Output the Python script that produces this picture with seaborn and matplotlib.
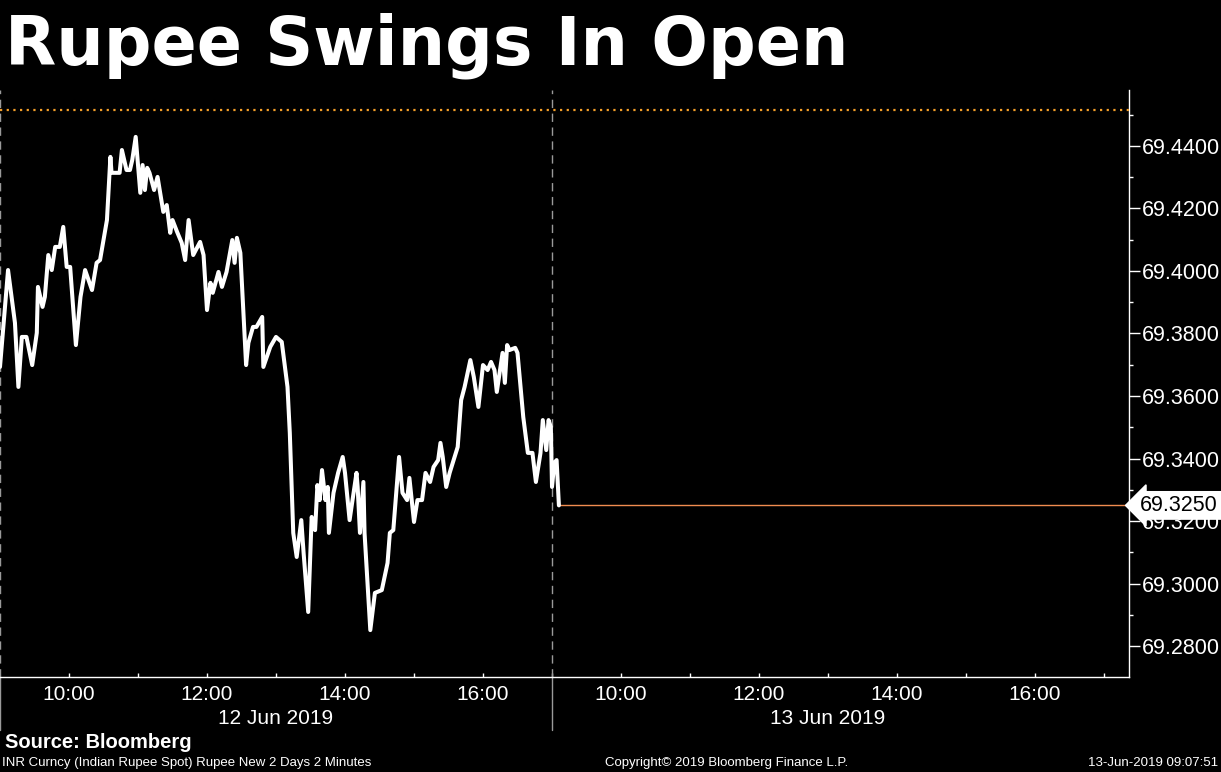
import matplotlib
matplotlib.use("Agg")
import matplotlib.pyplot as plt
import matplotlib.transforms as mtransforms
import matplotlib.ticker as mticker
import seaborn as sns
import pandas as pd

# INR spot, 2-minute bars
day1_times = [
    "09:00", "09:07", "09:13", "09:16", "09:19", "09:23", "09:28", "09:32", "09:33", "09:37",
    "09:39", "09:42", "09:45", "09:48", "09:52", "09:55", "09:58", "10:01", "10:06", "10:10",
    "10:14", "10:20", "10:24", "10:27", "10:33", "10:36", "10:37", "10:44", "10:46", "10:50",
    "10:53", "10:55", "10:58", "11:02", "11:04", "11:06", "11:08", "11:10", "11:14", "11:17",
    "11:22", "11:25", "11:28", "11:30", "11:34", "11:38", "11:41", "11:44", "11:48", "11:54",
    "11:57", "12:00", "12:03", "12:05", "12:10", "12:13", "12:17", "12:22", "12:24", "12:26",
    "12:29", "12:34", "12:36", "12:40", "12:43", "12:48", "12:49", "12:55", "13:00", "13:05",
    "13:10", "13:12", "13:15", "13:18", "13:22", "13:24", "13:28", "13:31", "13:34", "13:36",
    "13:38", "13:40", "13:43", "13:45", "13:46", "13:50", "13:54", "13:58", "14:00", "14:04",
    "14:10", "14:11", "14:13", "14:16", "14:17", "14:22", "14:26", "14:32", "14:37", "14:39",
    "14:42", "14:47", "14:50", "14:54", "14:56", "15:00", "15:03", "15:07", "15:10", "15:14",
    "15:17", "15:21", "15:23", "15:25", "15:28", "15:31", "15:38", "15:41", "15:44", "15:49",
    "15:52", "15:56", "16:00", "16:04", "16:07", "16:10", "16:12", "16:17", "16:19", "16:21",
    "16:23", "16:28", "16:30", "16:35", "16:39", "16:43", "16:46", "16:50", "16:52", "16:55",
    "16:57", "16:59",
]
day1_prices = [
    69.3693, 69.4003, 69.3834, 69.3629, 69.3789, 69.3789, 69.3699, 69.3802, 69.3949, 69.3885,
    69.3917, 69.4051, 69.4003, 69.4077, 69.4077, 69.4141, 69.4013, 69.4013, 69.3763, 69.3917,
    69.4003, 69.3939, 69.4026, 69.4035, 69.4163, 69.4365, 69.4314, 69.4314, 69.4387, 69.4323,
    69.4323, 69.4355, 69.4429, 69.4250, 69.4339, 69.4259, 69.4330, 69.4314, 69.4259, 69.4301,
    69.4189, 69.4211, 69.4122, 69.4163, 69.4125, 69.4090, 69.4035, 69.4163, 69.4051, 69.4093,
    69.4051, 69.3875, 69.3962, 69.3930, 69.3997, 69.3949, 69.3997, 69.4099, 69.4026, 69.4106,
    69.4058, 69.3699, 69.3770, 69.3821, 69.3821, 69.3853, 69.3693, 69.3757, 69.3789, 69.3773,
    69.3629, 69.3482, 69.3162, 69.3085, 69.3203, 69.3098, 69.2909, 69.3213, 69.3171, 69.3315,
    69.3267, 69.3363, 69.3267, 69.3309, 69.3162, 69.3290, 69.3354, 69.3405, 69.3354, 69.3203,
    69.3354, 69.3309, 69.3162, 69.3325, 69.3162, 69.2851, 69.2970, 69.2979, 69.3066, 69.3162,
    69.3171, 69.3405, 69.3290, 69.3267, 69.3338, 69.3197, 69.3267, 69.3267, 69.3354, 69.3325,
    69.3373, 69.3395, 69.3450, 69.3405, 69.3309, 69.3354, 69.3437, 69.3587, 69.3629, 69.3715,
    69.3661, 69.3565, 69.3699, 69.3683, 69.3709, 69.3683, 69.3613, 69.3738, 69.3642, 69.3763,
    69.3747, 69.3754, 69.3738, 69.3533, 69.3418, 69.3418, 69.3325, 69.3418, 69.3523, 69.3427,
    69.3523, 69.3501,
]
day2_times = ["09:00", "09:02", "09:04", "09:06"]
day2_prices = [69.3309, 69.3386, 69.3395, 69.3250]

day_labels = ["12 Jun 2019", "13 Jun 2019"]
hour_labels = ["10:00", "12:00", "14:00", "16:00"]
last_price = 69.3250
high_marker = 69.4515

title = "Rupee Swings In Open"
source = "Source: Bloomberg"
footer_left = "INR Curncy (Indian Rupee Spot) Rupee New 2 Days 2 Minutes"
footer_mid = "Copyright\u00a9 2019 Bloomberg Finance L.P."
footer_right = "13-Jun-2019 09:07:51"

SESSION_H = 8.0      # hours shown per day slot
OPEN_H = 9.0


def to_pos(day, t):
    h, m = t.split(":")
    return day * SESSION_H + int(h) + int(m) / 60 - OPEN_H


df = pd.DataFrame({
    "pos": [to_pos(0, t) for t in day1_times] + [to_pos(1, t) for t in day2_times],
    "price": day1_prices + day2_prices,
})

sns.set_style("dark")
plt.rcParams["font.family"] = ["Liberation Sans", "DejaVu Sans"]
BG = "black"
fig = plt.figure(figsize=(12.21, 7.72), dpi=100, facecolor=BG)
ax = fig.add_axes([0, 1 - 677 / 772, 1129 / 1221, 587 / 772], facecolor=BG)

sns.lineplot(data=df, x="pos", y="price", ax=ax, color="white", linewidth=2.9, zorder=5)

xmax = 1129 / 69
ax.set_xlim(0, xmax)
ax.set_ylim(69.2701, 69.4579)

# last price line and top dotted marker
ax.hlines(last_price, df["pos"].iloc[-1], xmax, color="#f08c50", linewidth=1.0, zorder=4)
ax.axhline(high_marker, color="#f5a02a", linestyle=(0, (1, 2)), linewidth=1.6, zorder=3)

# day separators
for d in range(2):
    ax.axvline(d * SESSION_H, color="#9a9a9a", linestyle=(0, (6, 4)), linewidth=1.0, zorder=2)
    ax.plot([d * SESSION_H, d * SESSION_H], [0, -53 / 587], color="#9a9a9a", linewidth=1.0,
            transform=mtransforms.blended_transform_factory(ax.transData, ax.transAxes),
            clip_on=False)

# y axis on the right
ax.yaxis.tick_right()
ax.yaxis.set_major_locator(mticker.MultipleLocator(0.02))
ax.yaxis.set_minor_locator(mticker.MultipleLocator(0.01))
ax.yaxis.set_major_formatter(mticker.FormatStrFormatter("%.4f"))
ax.tick_params(axis="y", which="major", direction="out", length=8, width=1, colors="white",
               labelsize=15.5, pad=1, right=True, left=False)
ax.tick_params(axis="y", which="minor", direction="out", length=3, width=1, color="white",
               right=True, left=False)

# x axis: hourly ticks, labels on even hours
hour_ticks = [d * SESSION_H + h for d in range(2) for h in range(1, 9)]
ax.set_xticks(hour_ticks, minor=True)
label_pos = [d * SESSION_H + int(s[:2]) - OPEN_H for d in range(2) for s in hour_labels]
ax.set_xticks(label_pos)
ax.set_xticklabels(hour_labels * 2)
ax.tick_params(axis="x", which="both", direction="in", length=3, width=1, color="white",
               labelcolor="white", labelsize=15, pad=6, bottom=True)
for i, lab in enumerate(day_labels):
    ax.text(i * SESSION_H + 4.0, -42 / 587, lab, transform=ax.get_xaxis_transform(),
            ha="center", va="center", color="white", fontsize=15)

ax.set_xlabel("")
ax.set_ylabel("")
ax.grid(False)
for side in ["top", "left"]:
    ax.spines[side].set_visible(False)
for side in ["bottom", "right"]:
    ax.spines[side].set_visible(True)
    ax.spines[side].set_color("white")
    ax.spines[side].set_linewidth(1.0)

# last price tag
ax.annotate("69.3250", xy=(1.0, last_price),
            xycoords=mtransforms.blended_transform_factory(ax.transAxes, ax.transData),
            xytext=(8, 0), textcoords="offset points",
            ha="left", va="center", color="black", fontsize=15.5, zorder=10,
            annotation_clip=False,
            bbox=dict(boxstyle="larrow,pad=0.15", fc="white", ec="white"))

fig.text(5 / 1221, 1 - 46 / 772, title, color="white", fontsize=48, fontweight="bold",
         family=["DejaVu Sans"], ha="left", va="center")
fig.text(5 / 1221, 1 - 743 / 772, source, color="white", fontsize=14.5, fontweight="bold",
         ha="left", va="center")
fig.text(2 / 1221, 1 - 763 / 772, footer_left, color="white", fontsize=9.5, ha="left", va="center")
fig.text(727 / 1221, 1 - 763 / 772, footer_mid, color="white", fontsize=9.5, ha="center", va="center")
fig.text(1218 / 1221, 1 - 763 / 772, footer_right, color="white", fontsize=9.5, ha="right", va="center")

fig.savefig("out.png", dpi=100, facecolor=BG)
